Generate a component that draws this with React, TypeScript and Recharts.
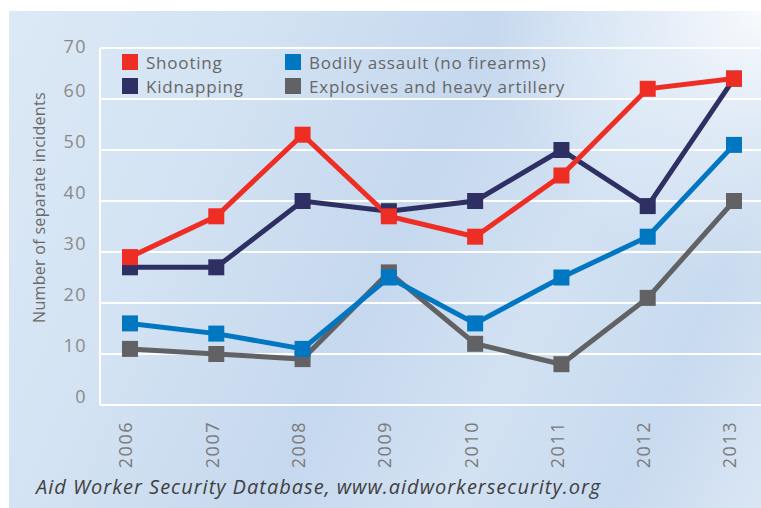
import { CartesianGrid, Line, LineChart, XAxis, YAxis } from "recharts";

const years = ["2006", "2007", "2008", "2009", "2010", "2011", "2012", "2013"];
const shooting = [29, 37, 53, 37, 33, 45, 62, 64];
const kidnapping = [27, 27, 40, 38, 40, 50, 39, 64];
const bodilyAssault = [16, 14, 11, 25, 16, 25, 33, 51];
const explosives = [11, 10, 9, 26, 12, 8, 21, 40];
const yTicks = [0, 10, 20, 30, 40, 50, 60, 70];

const series = [
	{ key: "explosives", name: "Explosives and heavy artillery", color: "#626264" },
	{ key: "bodily", name: "Bodily assault (no firearms)", color: "#0077c0" },
	{ key: "kidnapping", name: "Kidnapping", color: "#2e3063" },
	{ key: "shooting", name: "Shooting", color: "#ee2d24" },
];

const legendOrder = ["shooting", "bodily", "kidnapping", "explosives"];

const data = years.map((year, i) => ({
	year,
	shooting: shooting[i],
	kidnapping: kidnapping[i],
	bodily: bodilyAssault[i],
	explosives: explosives[i],
}));

const font = "'Open Sans', sans-serif";

const SquareDot = (props: any) => {
	const { cx, cy, stroke, index } = props;
	if (cx == null || cy == null) return null;
	return <rect key={index} x={cx - 8} y={cy - 8} width={16} height={16} fill={stroke} />;
};

const YearTick = ({ x, y, payload }: any) => (
	<g transform={`translate(${x - 4},${y})`}>
		<text
			transform="rotate(-90)"
			x={-8}
			dy="0.36em"
			textAnchor="end"
			fill="#7a7a7a"
			fontSize={18}
			letterSpacing={1.5}
			fontFamily={font}
		>
			{payload.value}
		</text>
	</g>
);

// value labels sit a little above their gridlines, except the top one
const ValueTick = ({ x, y, payload, index }: any) => (
	<text
		x={x}
		y={y + (index === yTicks.length - 1 ? -1 : -8)}
		dy="0.36em"
		textAnchor="end"
		fill="#8a8a8a"
		fontSize={18}
		letterSpacing={1.5}
		fontFamily={font}
	>
		{payload.value}
	</text>
);

const LegendBox = () => (
	<div
		style={{
			position: "absolute",
			left: 122,
			top: 52,
			display: "grid",
			gridTemplateColumns: "163px 300px",
			rowGap: 4,
			fontFamily: font,
			fontSize: 17,
			letterSpacing: 0.8,
			color: "#666",
			whiteSpace: "nowrap",
		}}
	>
		{legendOrder.map((k) => {
			const s = series.find((x) => x.key === k)!;
			return (
				<div key={k} style={{ display: "flex", alignItems: "center", height: 20 }}>
					<span style={{ width: 16, height: 16, flex: "none", background: s.color, marginRight: 8 }} />
					<span>{s.name}</span>
				</div>
			);
		})}
	</div>
);

export default function App() {
	return (
		<div
			style={{
				position: "absolute",
				left: 0,
				top: 0,
				width: 761,
				height: 508,
				background: "#fff",
			}}
		>
			<div
				style={{
					position: "absolute",
					left: 9,
					top: 11,
					width: 752,
					height: 497,
					background:
						"radial-gradient(circle at 100% 0%, #f8fafd 0%, rgba(240,245,251,0.6) 12%, rgba(255,255,255,0) 30%), linear-gradient(115deg, #dce9f6 0%, #d3e3f3 25%, #c6d8ee 50%, #d2e2f3 68%, #c8daef 85%, #dae6f4 100%)",
				}}
			/>
			<div style={{ position: "absolute", left: 0, top: 0 }}>
				<LineChart
					width={761}
					height={508}
					data={data}
					margin={{ top: 48, right: -3, bottom: 73, left: 0 }}
				>
					<CartesianGrid vertical={false} stroke="#ffffff" strokeWidth={2} />
					<XAxis
						dataKey="year"
						height={30}
						axisLine={{ stroke: "#ffffff", strokeWidth: 2 }}
						tickLine={false}
						padding={{ left: 30, right: 30 }}
						tick={<YearTick />}
						interval={0}
					/>
					<YAxis
						width={100}
						domain={[0, 70]}
						ticks={yTicks}
						axisLine={{ stroke: "#ffffff", strokeWidth: 2 }}
						tickLine={false}
						tickMargin={7}
						tick={<ValueTick />}
						label={{
							value: "Number of separate incidents",
							angle: -90,
							position: "insideLeft",
							offset: 0,
							dx: 39,
							dy: -19,
							style: { fill: "#6a6a6a", fontSize: 16, letterSpacing: 0.3, fontFamily: font, textAnchor: "middle" },
						}}
					/>
					{series.map((s) => (
						<Line
							key={s.key}
							type="linear"
							dataKey={s.key}
							name={s.name}
							stroke={s.color}
							strokeWidth={5}
							dot={<SquareDot />}
							activeDot={false}
							isAnimationActive={false}
						/>
					))}
				</LineChart>
			</div>
			<LegendBox />
			<div
				style={{
					position: "absolute",
					left: 36,
					top: 473,
					fontFamily: font,
					fontStyle: "italic",
					fontSize: 20,
					letterSpacing: 1,
					color: "#3f3f3f",
					whiteSpace: "nowrap",
				}}
			>
				Aid Worker Security Database, www.aidworkersecurity.org
			</div>
		</div>
	);
}
